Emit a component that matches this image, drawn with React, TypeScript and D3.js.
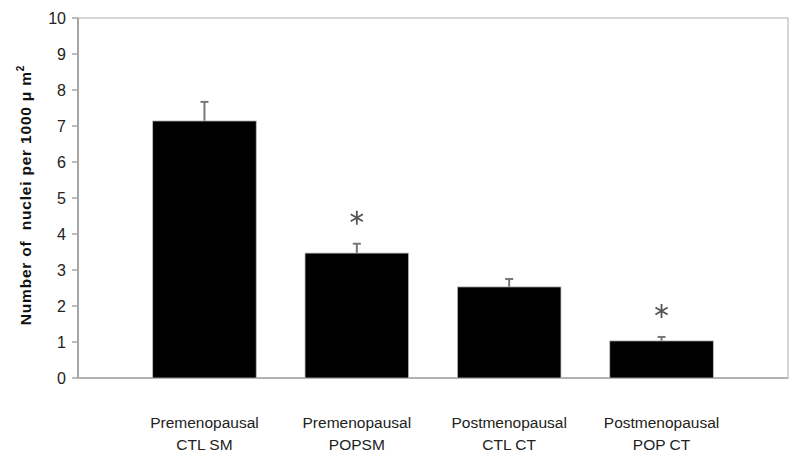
import React from "react";
import * as d3 from "d3";

const categories = [
  ["Premenopausal", "CTL SM"],
  ["Premenopausal", "POPSM"],
  ["Postmenopausal", "CTL CT"],
  ["Postmenopausal", "POP CT"],
];
const values = [7.14, 3.47, 2.53, 1.03];
const errors = [0.53, 0.26, 0.22, 0.11];
const significant = [false, true, false, true];
const yTicks = [0, 1, 2, 3, 4, 5, 6, 7, 8, 9, 10];

const W = 800, H = 463;
const M = { left: 78, right: 12, top: 18, bottom: 85 };

export default function App() {
  const x = d3
    .scaleBand<number>()
    .domain(values.map((_, i) => i))
    .range([M.left, W - M.right])
    .paddingInner(0.32)
    .paddingOuter(0.49);
  const y = d3.scaleLinear().domain([0, 10]).range([H - M.bottom, M.top]);
  const axisColor = "#a6a6a6";
  const font = "Arial, 'Liberation Sans', sans-serif";
  const star = d3.symbol().type(d3.symbolAsterisk).size(140)()!;
  return (
    <svg width={W} height={H} style={{ position: "absolute", left: 0, top: 0, background: "#fff" }}>
      <rect
        x={M.left}
        y={M.top}
        width={W - M.left - M.right}
        height={H - M.top - M.bottom}
        fill="none"
        stroke="#c8c8c8"
        strokeWidth={1.5}
      />
      <line x1={M.left} x2={M.left} y1={M.top} y2={H - M.bottom} stroke={axisColor} strokeWidth={2} />
      <line x1={M.left} x2={W - M.right} y1={H - M.bottom} y2={H - M.bottom} stroke={axisColor} strokeWidth={1.5} />
      {yTicks.map((t) => (
        <g key={t}>
          <line x1={M.left - 6} x2={M.left} y1={y(t)} y2={y(t)} stroke={axisColor} strokeWidth={1.5} />
          <text
            x={M.left - 12}
            y={y(t)}
            dy="0.36em"
            textAnchor="end"
            fontFamily={font}
            fontSize={16}
            fill="#222"
          >
            {t}
          </text>
        </g>
      ))}
      <text
        transform={`translate(31,${(M.top + H - M.bottom) / 2 - 3}) rotate(-90)`}
        textAnchor="middle"
        fontFamily={font}
        fontSize={15.5}
        fontWeight="bold"
        letterSpacing={0.8}
        fill="#111"
        style={{ whiteSpace: "pre" }}
      >
        Number of  nuclei per 1000 μ m<tspan dy="-7" fontSize={10}>2</tspan>
      </text>
      {values.map((v, i) => {
        const bx = x(i)!;
        const cx = bx + x.bandwidth() / 2;
        const top = y(v + errors[i]);
        return (
          <g key={i}>
            <line x1={cx} x2={cx} y1={y(v)} y2={top} stroke="#777" strokeWidth={2} />
            <line x1={cx - 4} x2={cx + 4} y1={top} y2={top} stroke="#777" strokeWidth={2} />
            <rect x={bx} y={y(v)} width={x.bandwidth()} height={y(0) - y(v)} fill="#000" stroke="#bbb" strokeWidth={0.8} />
            {significant[i] && (
              <path d={star} transform={`translate(${cx},${top - 26})`} fill="none" stroke="#555" strokeWidth={1.8} />
            )}
            <text textAnchor="middle" fontFamily={font} fontSize={15.5} fill="#222">
              <tspan x={cx} y={428}>{categories[i][0]}</tspan>
              <tspan x={cx} y={450}>{categories[i][1]}</tspan>
            </text>
          </g>
        );
      })}
    </svg>
  );
}
